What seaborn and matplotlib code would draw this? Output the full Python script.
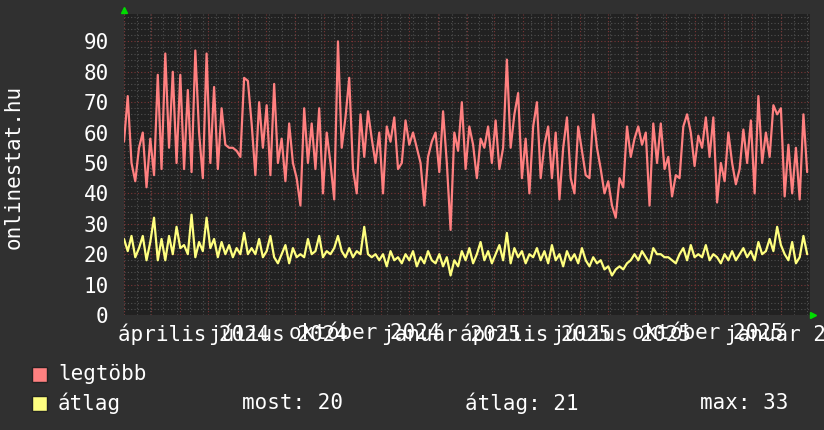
import pandas as pd
import matplotlib
matplotlib.use('Agg')
import matplotlib.pyplot as plt
from matplotlib.patches import Rectangle
import seaborn as sns

# ----------------------------
# Data (one sample every 4 days)
# ----------------------------
kezdet = '2024-02-01'
veg = '2026-02-01'

legtobb = [57, 72, 50, 44, 55, 60, 42, 58, 46, 79, 48, 86, 55, 80, 50, 79, 48, 74, 47, 87,
           60, 45, 86, 50, 75, 48, 68, 56, 55, 55, 54, 52, 78, 77, 63, 46, 70, 55, 69, 46,
           76, 50, 58, 44, 63, 50, 45, 36, 68, 50, 63, 48, 68, 40, 60, 50, 38, 90, 55, 65,
           78, 48, 40, 66, 52, 67, 58, 50, 60, 40, 62, 57, 65, 48, 50, 64, 56, 60, 55, 50,
           36, 52, 57, 60, 47, 67, 50, 28, 60, 54, 70, 48, 62, 56, 45, 58, 55, 62, 50, 64,
           48, 55, 84, 55, 66, 73, 45, 58, 40, 62, 70, 45, 56, 62, 45, 60, 38, 55, 65, 45,
           40, 62, 54, 46, 45, 66, 55, 48, 40, 44, 36, 32, 45, 42, 62, 52, 58, 62, 56, 60,
           36, 63, 50, 63, 48, 52, 39, 46, 45, 62, 66, 60, 49, 59, 55, 65, 52, 65, 37, 50,
           44, 60, 50, 43, 48, 61, 50, 64, 40, 72, 50, 60, 52, 69, 66, 68, 39, 56, 40, 55,
           38, 66, 47]

atlag = [25, 21, 26, 19, 22, 26, 18, 24, 32, 18, 25, 18, 26, 20, 29, 22, 23, 20, 33, 19,
         24, 21, 32, 22, 25, 19, 24, 20, 23, 19, 22, 20, 27, 20, 22, 20, 25, 19, 21, 26,
         19, 17, 20, 23, 17, 22, 19, 20, 19, 25, 20, 21, 26, 19, 21, 20, 22, 26, 21, 19,
         22, 19, 21, 20, 29, 20, 19, 20, 18, 20, 16, 21, 18, 19, 17, 20, 18, 21, 16, 19,
         17, 21, 18, 17, 20, 16, 19, 13, 18, 16, 21, 18, 22, 17, 20, 24, 18, 21, 17, 20,
         23, 18, 27, 17, 22, 19, 21, 17, 20, 19, 22, 18, 21, 17, 23, 18, 20, 16, 21, 18,
         20, 17, 22, 18, 16, 19, 17, 18, 15, 16, 13, 15, 16, 15, 17, 18, 20, 18, 21, 19,
         17, 22, 20, 20, 19, 19, 18, 17, 20, 22, 18, 23, 19, 20, 19, 23, 18, 20, 19, 17,
         20, 18, 21, 18, 20, 22, 19, 21, 18, 24, 20, 21, 25, 21, 29, 23, 20, 18, 24, 17,
         19, 26, 20]

honap_cimkek = ['április 2024', 'július 2024', 'október 2024', 'január 2025',
                'április 2025', 'július 2025', 'október 2025', 'január 2026']
cimke_datumok = ['2024-04-15', '2024-07-15', '2024-10-15', '2025-01-15',
                 '2025-04-15', '2025-07-15', '2025-10-15', '2026-01-15']

most, atlag_ertek, max_ertek = 20, 21, 33

df = pd.DataFrame({
    'datum': pd.date_range(kezdet, periods=len(legtobb), freq='4D'),
    'legtöbb': legtobb,
    'átlag': atlag,
})
long_df = df.melt('datum', var_name='sorozat', value_name='ertek')

# ----------------------------
# Style
# ----------------------------
sns.set_style('dark')
plt.rcParams['font.family'] = ['DejaVu Sans Mono', 'DejaVu Sans']

bg = '#303030'
plot_bg = '#212121'
red = '#ff8080'
yellow = '#ffff80'
grid_grey = '#505050'
grid_red = '#7a3535'

fig = plt.figure(figsize=(8.24, 4.30), dpi=100, facecolor=bg)
ax = fig.add_axes([124/824, 1 - 315/430, 686/824, 301/430])
ax.set_facecolor(plot_bg)

# grid: fine grey every 2 units / 2 weeks, red every 10 units / month
for v in range(0, 100, 2):
    ax.axhline(v, color=grid_red if v % 10 == 0 else grid_grey,
               lw=0.8, ls=(0, (1, 2)), zorder=1)
for d in pd.date_range(kezdet, veg, freq='14D'):
    ax.axvline(d, color=grid_grey, lw=0.8, ls=(0, (1, 2)), zorder=1)
for d in pd.date_range(kezdet, veg, freq='MS'):
    ax.axvline(d, color=grid_red, lw=0.8, ls=(0, (1, 2)), zorder=1)

sns.lineplot(data=long_df, x='datum', y='ertek', hue='sorozat',
             palette={'legtöbb': red, 'átlag': yellow},
             linewidth=1.6, errorbar=None, legend=False, ax=ax, zorder=3)

ax.set_xlim(pd.Timestamp(kezdet), pd.Timestamp(veg))
ax.set_ylim(0, 99)
ax.set_yticks(range(0, 100, 10))
ax.set_xticks(pd.to_datetime(cimke_datumok))
ax.set_xticklabels(honap_cimkek)
ax.tick_params(axis='both', colors='white', labelsize=15, length=0)
ax.tick_params(axis='y', pad=11)
ax.tick_params(axis='x', pad=6)
ax.set_xlabel('')
ax.set_ylabel('')
for s in ax.spines.values():
    s.set_visible(False)

# green axis arrows
ax.plot([0], [1.012], marker='^', color='#00dd00', markersize=5,
        transform=ax.transAxes, clip_on=False)
ax.plot([1.005], [0], marker='>', color='#00dd00', markersize=5,
        transform=ax.transAxes, clip_on=False)

fig.text(14/824, 1 - 167/430, 'onlinestat.hu', rotation=90, color='white',
         fontsize=15, ha='center', va='center')

# legend
for y, col, label in [(374, red, 'legtöbb'), (403, yellow, 'átlag')]:
    fig.add_artist(Rectangle((32/824, 1 - (y + 7.5)/430), 15/824, 15/430,
                             transform=fig.transFigure, facecolor=col,
                             edgecolor='#222222', lw=1))
    fig.text(58/824, 1 - y/430, label, color='white', fontsize=15, va='center')

fig.text(242/824, 1 - 403/430, f'most: {most}', color='white', fontsize=15, va='center')
fig.text(465/824, 1 - 403/430, f'átlag: {atlag_ertek}', color='white', fontsize=15, va='center')
fig.text(700/824, 1 - 403/430, f'max: {max_ertek}', color='white', fontsize=15, va='center')

fig.savefig('out.png', dpi=100, facecolor=bg)
